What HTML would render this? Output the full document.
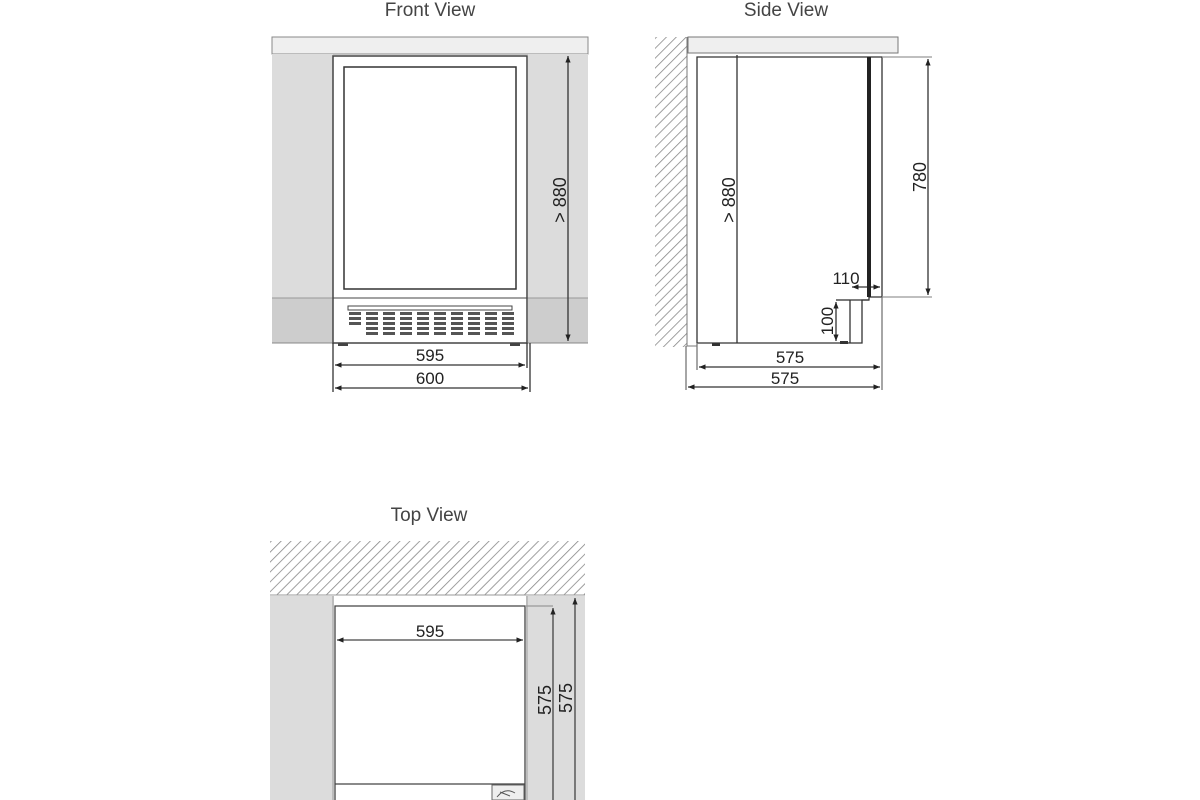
<!DOCTYPE html>
<html><head><style>body{margin:0;background:#fff}svg{display:block}</style></head><body>
<svg width="1200" height="800" viewBox="0 0 1200 800" xmlns="http://www.w3.org/2000/svg" font-family="Liberation Sans, sans-serif">
<defs>
<pattern id="h" width="7" height="7" patternUnits="userSpaceOnUse" patternTransform="rotate(45)">
<rect width="7" height="7" fill="#fff"/><line x1="0" y1="0" x2="0" y2="7" stroke="#888" stroke-width="1.6"/></pattern>
<marker id="a" markerWidth="6" markerHeight="6" refX="5" refY="3" orient="auto-start-reverse"><path d="M0,1 L5,3 L0,5z" fill="#222"/></marker>
</defs>
<g font-size="19" fill="#444" text-anchor="middle">
<text x="430" y="16">Front View</text>
<text x="786" y="16">Side View</text>
<text x="429" y="521">Top View</text>
</g>
<!-- FRONT -->
<rect x="272" y="37" width="316" height="17" fill="#efefef" stroke="#888"/>
<rect x="272" y="54" width="61" height="244" fill="#dcdcdc"/>
<rect x="528" y="54" width="60" height="244" fill="#dcdcdc"/>
<rect x="272" y="298" width="61" height="45" fill="#cdcdcd"/>
<rect x="528" y="298" width="60" height="45" fill="#cdcdcd"/>
<line x1="272" y1="298" x2="588" y2="298" stroke="#999"/>
<line x1="272" y1="343" x2="588" y2="343" stroke="#888"/>
<rect x="333" y="56" width="194" height="287" fill="#fff" stroke="#444" stroke-width="1.5"/>
<rect x="344" y="67" width="172" height="222" fill="#fff" stroke="#333" stroke-width="1.5"/>
<line x1="333" y1="298" x2="527" y2="298" stroke="#444"/>
<rect x="348" y="306" width="164" height="4" fill="#fff" stroke="#444"/>
<g fill="#555">
<rect x="349" y="312" width="12" height="3"/><rect x="349" y="317" width="12" height="3"/><rect x="349" y="322" width="12" height="3"/>
</g>
<g fill="#555" id="g">
<rect x="366" y="312" width="12" height="3"/><rect x="366" y="317" width="12" height="3"/><rect x="366" y="322" width="12" height="3"/><rect x="366" y="327" width="12" height="3"/><rect x="366" y="332" width="12" height="3"/>
</g>
<use href="#g" x="17"/><use href="#g" x="34"/><use href="#g" x="51"/><use href="#g" x="68"/><use href="#g" x="85"/><use href="#g" x="102"/><use href="#g" x="119"/><use href="#g" x="136"/>
<rect x="338" y="343" width="10" height="3" fill="#444"/><rect x="510" y="343" width="10" height="3" fill="#444"/>
<g stroke="#333" stroke-width="1.3" fill="none">
<line x1="568" y1="56" x2="568" y2="341" marker-start="url(#a)" marker-end="url(#a)"/>
<line x1="333" y1="343" x2="333" y2="392"/><line x1="527" y1="343" x2="527" y2="368"/><line x1="530" y1="343" x2="530" y2="392"/>
<line x1="335" y1="365" x2="525" y2="365" marker-start="url(#a)" marker-end="url(#a)"/>
<line x1="335" y1="388" x2="528" y2="388" marker-start="url(#a)" marker-end="url(#a)"/>
</g>
<g font-size="17" fill="#222" text-anchor="middle">
<text x="430" y="361">595</text><text x="430" y="384">600</text>
<text transform="translate(566,200) rotate(-90)" font-size="18">&gt; 880</text>
</g>
<!-- SIDE -->
<rect x="655" y="37" width="32" height="310" fill="url(#h)"/>
<polyline points="687,37 687,346 697,346" fill="none" stroke="#777"/>
<rect x="688" y="37" width="210" height="16" fill="#efefef" stroke="#777"/>
<g stroke="#333" stroke-width="1.3" fill="none">
<polyline points="697,343 697,57 882,57 882,297 869,297 869,300 862,300 862,343 697,343"/>
<polyline points="850,300 850,343"/>
<polyline points="850,300 869,300"/>
<line x1="737" y1="55" x2="737" y2="343"/>
<line x1="928" y1="59" x2="928" y2="295" marker-start="url(#a)" marker-end="url(#a)"/>
<line x1="882" y1="57" x2="932" y2="57" stroke="#999"/>
<line x1="882" y1="297" x2="932" y2="297" stroke="#999"/>
<line x1="852" y1="287" x2="880" y2="287" marker-start="url(#a)" marker-end="url(#a)"/>
<line x1="836" y1="302" x2="836" y2="341" marker-start="url(#a)" marker-end="url(#a)"/>
<line x1="836" y1="300" x2="850" y2="300"/>
<line x1="882" y1="297" x2="882" y2="390" stroke="#777"/>
<line x1="697" y1="343" x2="697" y2="370" stroke="#777"/>
<line x1="699" y1="367" x2="880" y2="367" marker-start="url(#a)" marker-end="url(#a)"/>
<line x1="688" y1="387" x2="880" y2="387" marker-start="url(#a)" marker-end="url(#a)"/>
<line x1="686" y1="346" x2="686" y2="390" stroke="#777"/>
</g>
<rect x="867" y="57" width="4" height="240" fill="#222"/>
<rect x="712" y="343" width="8" height="3" fill="#333"/>
<rect x="840" y="341" width="8" height="3" fill="#333"/>
<g font-size="17" fill="#222" text-anchor="middle">
<text x="790" y="363">575</text><text x="785" y="384">575</text>
<text x="846" y="284">110</text>
<text transform="translate(735,200) rotate(-90)" font-size="18">&gt; 880</text>
<text transform="translate(926,177) rotate(-90)" font-size="18">780</text>
<text transform="translate(833,321) rotate(-90)">100</text>
</g>
<!-- TOP -->
<rect x="270" y="541" width="315" height="54" fill="url(#h)"/>
<line x1="270" y1="595" x2="585" y2="595" stroke="#999"/>
<rect x="270" y="596" width="62" height="204" fill="#dcdcdc"/>
<rect x="528" y="596" width="57" height="204" fill="#dcdcdc"/>
<g stroke="#444" stroke-width="1.3" fill="none">
<line x1="333" y1="596" x2="333" y2="800" stroke="#999"/>
<line x1="527" y1="596" x2="527" y2="800" stroke="#999"/>
<polyline points="335,800 335,606 525,606 525,800"/>
<line x1="335" y1="784" x2="525" y2="784"/>
<line x1="337" y1="640" x2="523" y2="640" marker-start="url(#a)" marker-end="url(#a)"/>
<line x1="525" y1="606" x2="553" y2="606" stroke="#999"/>
<line x1="553" y1="608" x2="553" y2="800" marker-start="url(#a)"/>
<line x1="575" y1="598" x2="575" y2="800" marker-start="url(#a)"/>
</g>
<rect x="492" y="785" width="32" height="15" fill="#eee" stroke="#666"/>
<path d="M497,797 q8,-10 18,-4 M500,792 l10,4" stroke="#555" fill="none"/>
<g font-size="18" fill="#222" text-anchor="middle">
<text x="430" y="637" font-size="17">595</text>
<text transform="translate(551,700) rotate(-90)">575</text>
<text transform="translate(572,698) rotate(-90)">575</text>
</g>
</svg>
</body></html>
